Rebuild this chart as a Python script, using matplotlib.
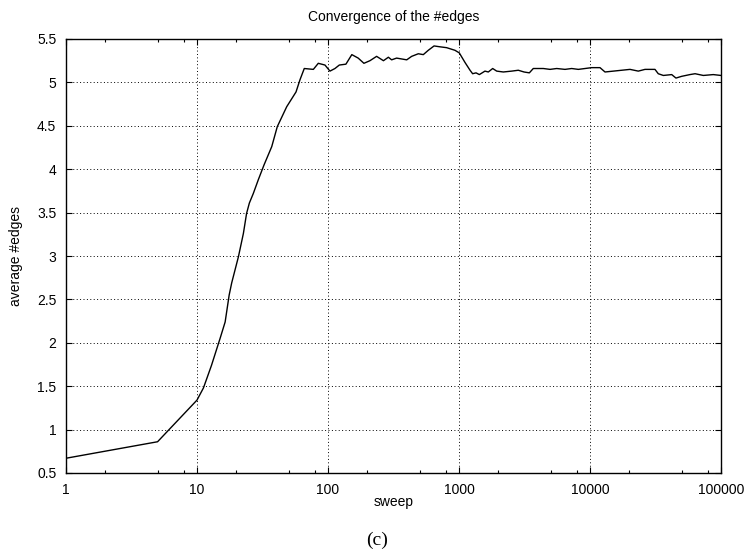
import matplotlib

matplotlib.use("Agg")
import matplotlib.pyplot as plt
from matplotlib.ticker import FixedLocator, FuncFormatter, LogLocator, NullFormatter

# Values (sweep, average #edges).
sweeps = [
    1, 5, 10, 11.2, 12.9, 15.0, 16.4, 17.6, 18.4, 20.7, 22.6, 23.9, 25.1, 26.9,
    29.4, 32.5, 37.2, 41.0, 48.4, 57.0, 61.1, 65.9, 77.3, 84.3, 94.8, 103.5,
    113, 122, 137, 152, 170, 188, 209, 235, 265, 289, 306, 334, 399, 435, 489,
    534, 583, 645, 716, 805, 931, 1005, 1111, 1214, 1271, 1349, 1430, 1578,
    1674, 1808, 1940, 2179, 2525, 2836, 3136, 3443, 3690, 4403, 4954, 5569,
    6442, 7245, 8147, 9162, 10300, 11920, 13020, 15080, 17460, 20200, 23370,
    26300, 31330, 33200, 36300, 42050, 45300, 50100, 57900, 63400, 73300,
    87300, 100000,
]
avg_edges = [
    0.67, 0.86, 1.34, 1.48, 1.74, 2.05, 2.24, 2.55, 2.69, 2.99, 3.26, 3.49,
    3.61, 3.72, 3.88, 4.05, 4.26, 4.49, 4.72, 4.89, 5.03, 5.16, 5.15, 5.22,
    5.20, 5.13, 5.16, 5.20, 5.21, 5.32, 5.28, 5.22, 5.25, 5.30, 5.25, 5.29,
    5.26, 5.28, 5.26, 5.30, 5.33, 5.32, 5.37, 5.42, 5.41, 5.40, 5.37, 5.34,
    5.23, 5.14, 5.10, 5.11, 5.09, 5.13, 5.12, 5.16, 5.13, 5.12, 5.13, 5.14,
    5.12, 5.11, 5.16, 5.16, 5.15, 5.16, 5.15, 5.16, 5.15, 5.16, 5.17, 5.17,
    5.12, 5.13, 5.14, 5.15, 5.13, 5.15, 5.15, 5.10, 5.08, 5.09, 5.05, 5.07,
    5.09, 5.10, 5.08, 5.09, 5.08,
]

x_ticks = [1, 10, 100, 1000, 10000, 100000]
y_ticks = [0.5, 1, 1.5, 2, 2.5, 3, 3.5, 4, 4.5, 5, 5.5]

plt.rcParams["font.family"] = ["Liberation Sans", "DejaVu Sans"]
plt.rcParams["font.size"] = 10

fig = plt.figure(figsize=(7.46, 5.53), dpi=100)
ax = fig.add_axes([66 / 746, 1 - 473 / 553, 655 / 746, 434 / 553])

ax.plot(sweeps, avg_edges, color="black", linewidth=1.0)

ax.set_xscale("log")
ax.set_xlim(1, 100000)
ax.set_ylim(0.5, 5.5)
ax.xaxis.set_major_locator(FixedLocator(x_ticks))
ax.xaxis.set_major_formatter(FuncFormatter(lambda v, _: f"{v:g}" if v < 1e5 else "100000"))
ax.xaxis.set_minor_locator(LogLocator(base=10, subs=[2, 5, 8]))
ax.xaxis.set_minor_formatter(NullFormatter())
ax.yaxis.set_major_locator(FixedLocator(y_ticks))
ax.yaxis.set_major_formatter(FuncFormatter(lambda v, _: f"{v:g}"))

ax.tick_params(which="both", direction="in", top=True, right=True, labelsize=10)
ax.tick_params(which="major", length=4.5, width=0.8, pad=7)
ax.tick_params(which="minor", length=2.2, width=0.8)
ax.grid(True, which="major", color="black", linestyle=(0, (1, 2.5)), linewidth=0.7)
for s in ax.spines.values():
    s.set_linewidth(1.0)

ax.set_xlabel("sweep")
ax.xaxis.set_label_coords(0.5, -0.05)
ax.set_ylabel("average #edges")
ax.yaxis.set_label_coords(-0.066, 0.5)

fig.text(394 / 746, 1 - 17 / 553, "Convergence of the #edges", ha="center", va="center", fontsize=10)
fig.text(377 / 746, 1 - 540 / 553, "(c)", ha="center", va="center", fontsize=14,
         family=["Liberation Serif", "DejaVu Serif"])

fig.savefig("out.png", dpi=100)
